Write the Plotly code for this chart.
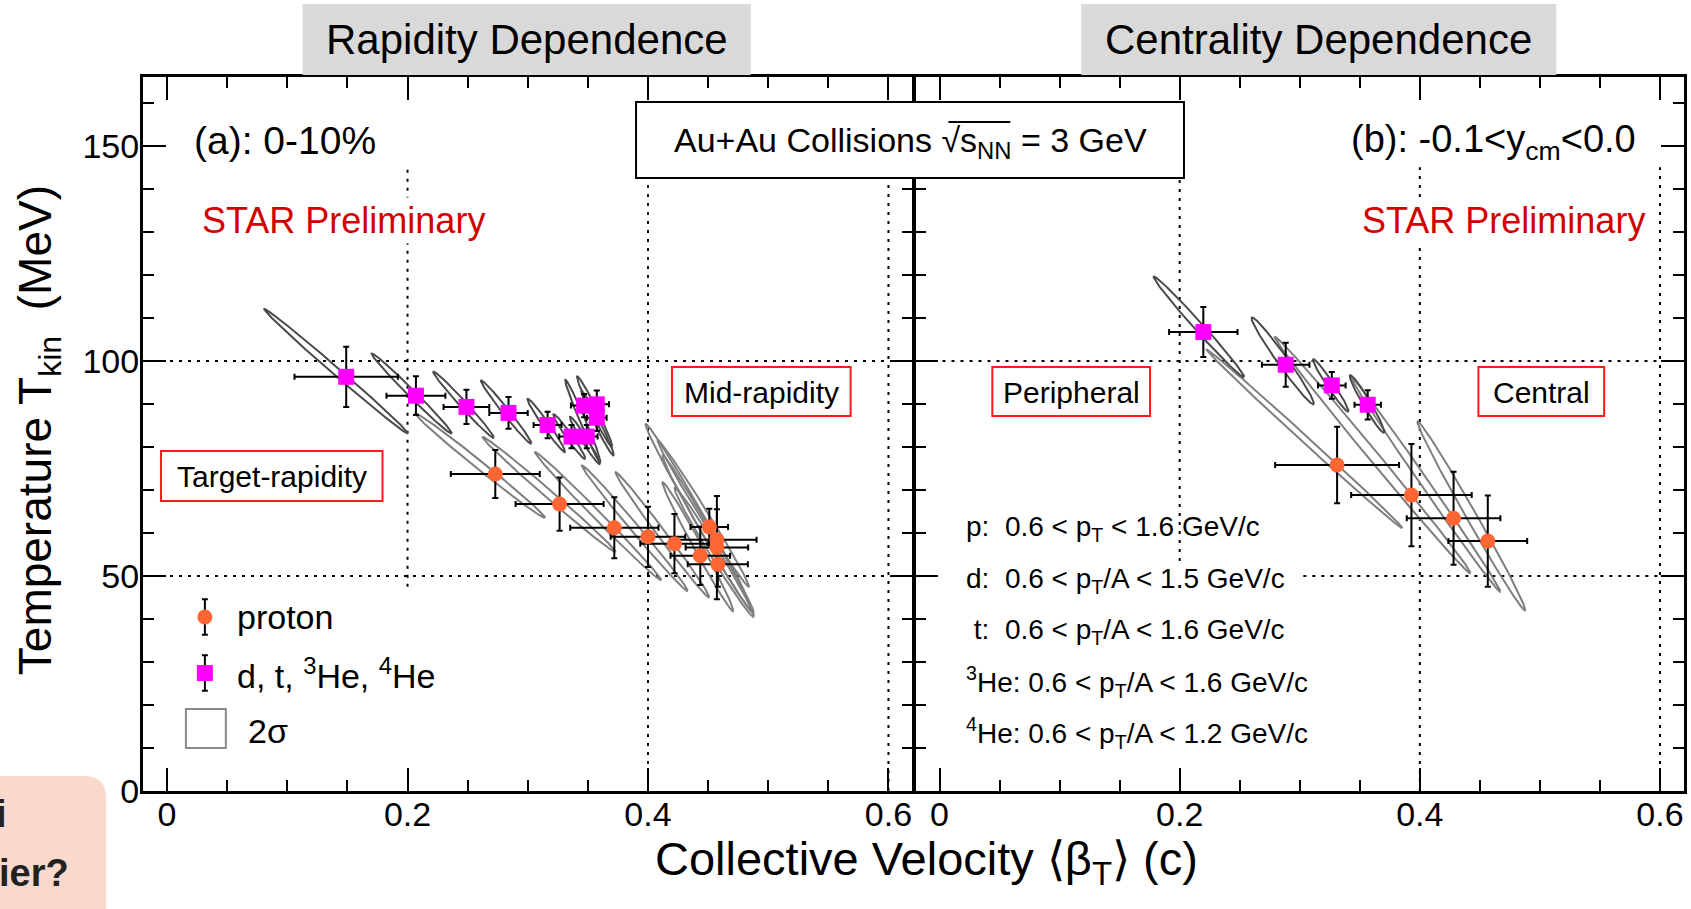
import numpy as np
import plotly.graph_objects as go

# ---------------- data ----------------
# Left panel: rapidity dependence, 0-10% central
rap_p_beta = [0.273, 0.3265, 0.372, 0.400, 0.422, 0.4435, 0.451, 0.4573, 0.4573, 0.4581]
rap_p_T = [73.7, 66.7, 61.2, 59.1, 57.5, 54.7, 61.4, 58.4, 56.6, 52.7]
rap_p_beta_err = [0.037, 0.0366, 0.0367, 0.031, 0.0284, 0.0248, 0.0156, 0.033, 0.026, 0.025]
rap_p_T_err = [5.6, 6.2, 7.1, 7.0, 6.9, 6.8, 4.2, 7.1, 12.0, 5.2]

rap_n_beta = [0.149, 0.207, 0.249, 0.284, 0.3165, 0.3364, 0.3491, 0.3469, 0.3574, 0.3574]
rap_n_T = [96.3, 91.9, 89.3, 87.9, 85.1, 82.4, 82.4, 89.6, 89.9, 86.8]
rap_n_beta_err = [0.043, 0.0245, 0.019, 0.016, 0.0116, 0.0102, 0.009, 0.011, 0.0102, 0.0082]
rap_n_T_err = [7.0, 4.5, 4.0, 3.7, 3.1, 2.7, 2.7, 2.7, 3.2, 3.1]

# 2-sigma contours: centre, half extent in beta and T, correlation
rap_p_ell_beta = [0.2604, 0.3177, 0.3585, 0.389, 0.412, 0.4415, 0.446, 0.443, 0.449, 0.455]
rap_p_ell_T = [75.65, 68.95, 63.9, 61.1, 59.55, 56.8, 64.5, 63.3, 60.0, 55.5]
rap_p_ell_dbeta = [0.054, 0.0553, 0.0525, 0.044, 0.039, 0.0295, 0.038, 0.045, 0.037, 0.033]
rap_p_ell_dT = [12.15, 13.35, 14.9, 14.6, 14.55, 15.0, 17.0, 22.0, 18.0, 15.0]
rap_p_ell_rho = [-0.995, -0.9958, -0.996, -0.995, -0.994, -0.991, -0.994, -0.994, -0.993, -0.99]

rap_n_ell_beta = [0.1405, 0.2035, 0.2466, 0.282, 0.3154, 0.3345, 0.3475, 0.3458, 0.3556, 0.358]
rap_n_ell_T = [97.6, 92.4, 89.8, 88.1, 85.0, 82.4, 81.5, 86.0, 88.2, 85.5]
rap_n_ell_dbeta = [0.0597, 0.0333, 0.0252, 0.021, 0.0157, 0.0133, 0.0125, 0.0147, 0.0147, 0.0135]
rap_n_ell_dT = [14.45, 9.3, 7.7, 7.35, 6.2, 5.2, 5.5, 9.6, 8.2, 7.5]
rap_n_ell_rho = [-0.9969, -0.992, -0.989, -0.9866, -0.98, -0.975, -0.975, -0.985, -0.98, -0.98]

# Right panel: centrality dependence, -0.1 < y_cm < 0.0
cen_p_beta = [0.3311, 0.393, 0.4281, 0.4566]
cen_p_T = [75.8, 68.8, 63.4, 58.1]
cen_p_beta_err = [0.0516, 0.0502, 0.039, 0.0328]
cen_p_T_err = [8.9, 11.9, 10.8, 10.6]

cen_n_beta = [0.2197, 0.2883, 0.3267, 0.3566]
cen_n_T = [106.7, 99.1, 94.3, 89.8]
cen_n_beta_err = [0.0285, 0.0198, 0.0115, 0.011]
cen_n_T_err = [5.8, 5.1, 3.1, 3.4]

cen_p_ell_beta = [0.304, 0.3607, 0.4049, 0.4429]
cen_p_ell_T = [81.85, 78.1, 71.3, 63.95]
cen_p_ell_dbeta = [0.0815, 0.0815, 0.0622, 0.0449]
cen_p_ell_dT = [20.75, 27.5, 25.0, 21.95]
cen_p_ell_rho = [-0.9987, -0.9978, -0.9977, -0.994]

cen_n_ell_beta = [0.216, 0.2858, 0.3258, 0.356]
cen_n_ell_T = [107.9, 100.0, 94.3, 90.0]
cen_n_ell_dbeta = [0.0377, 0.026, 0.0148, 0.0144]
cen_n_ell_dT = [11.7, 10.1, 6.1, 6.7]
cen_n_ell_rho = [-0.992, -0.98, -0.975, -0.968]

x_tick_vals = [0, 0.2, 0.4, 0.6]
x_tick_text = ["0", "0.2", "0.4", "0.6"]
y_tick_vals = [0, 50, 100, 150]
y_tick_text = ["0", "50", "100", "150"]

pt_ranges = [
    "p:\u00a0\u00a00.6 &lt; p<sub>T</sub> &lt; 1.6 GeV/c",
    "d:\u00a0\u00a00.6 &lt; p<sub>T</sub>/A &lt; 1.5 GeV/c",
    "\u00a0t:\u00a0\u00a00.6 &lt; p<sub>T</sub>/A &lt; 1.6 GeV/c",
    "<sup>3</sup>He: 0.6 &lt; p<sub>T</sub>/A &lt; 1.6 GeV/c",
    "<sup>4</sup>He: 0.6 &lt; p<sub>T</sub>/A &lt; 1.2 GeV/c",
]

# ---------------- page geometry ----------------
W, H = 1691, 909
ML, MR, MT, MB = 143, 4, 77, 118
LEFT_END, RIGHT_START = 914, 917      # pixel edges of the two panels
FONT = "Liberation Sans, Arial, Helvetica, sans-serif"
ORANGE = "#ff6633"
MAGENTA = "#ff00ff"
RED_TXT = "#d20000"
RED_BOX = "#ff1a1a"

# dotted guide lines (interrupted where the legend / text panes sit)
guides = {
    ("x", "y"): dict(vertical=[(0.2, 47.5, 145), (0.4, 0, 145), (0.6, 0, 145)],
                     horizontal=[(50, -0.02, 0.62), (100, -0.02, 0.62)]),
    ("x2", "y2"): dict(vertical=[(0.2, 53.5, 145), (0.4, 0, 145), (0.6, 0, 145)],
                       horizontal=[(50, 0.303, 0.62), (100, -0.02, 0.62)]),
}


def fx(px):
    return (px - ML) / (W - ML - MR)


def fy(py):
    return (H - MB - py) / (H - MT - MB)


def contour_path(cb, cT, db, dT, rho):
    xs, ys = [], []
    t = np.linspace(0, 2 * np.pi, 241)
    for b0, T0, sb, sT, r in zip(cb, cT, db, dT, rho):
        xs += list(b0 + sb * np.cos(t)) + [None]
        ys += list(T0 + sT * (r * np.cos(t) - np.sqrt(1 - r * r) * np.sin(t))) + [None]
    return xs, ys


fig = go.Figure()


def add_contours(cb, cT, db, dT, rho, color, xa, ya):
    xs, ys = contour_path(cb, cT, db, dT, rho)
    fig.add_trace(go.Scatter(x=xs, y=ys, mode="lines", line=dict(color=color, width=2),
                             hoverinfo="skip", showlegend=False, xaxis=xa, yaxis=ya))


def add_points(bx, T, ebx, eT, symbol, color, size, xa, ya):
    fig.add_trace(go.Scatter(
        x=bx, y=T, mode="markers",
        marker=dict(symbol=symbol, color=color, size=size, line=dict(width=0)),
        error_x=dict(type="data", array=ebx, color="black", thickness=2, width=3),
        error_y=dict(type="data", array=eT, color="black", thickness=2, width=3),
        showlegend=False, xaxis=xa, yaxis=ya))


# contours first, points on top
add_contours(rap_p_ell_beta, rap_p_ell_T, rap_p_ell_dbeta, rap_p_ell_dT, rap_p_ell_rho, "#7f7f7f", "x", "y")
add_contours(rap_n_ell_beta, rap_n_ell_T, rap_n_ell_dbeta, rap_n_ell_dT, rap_n_ell_rho, "#4a4a4a", "x", "y")
add_contours(cen_p_ell_beta, cen_p_ell_T, cen_p_ell_dbeta, cen_p_ell_dT, cen_p_ell_rho, "#7f7f7f", "x2", "y2")
add_contours(cen_n_ell_beta, cen_n_ell_T, cen_n_ell_dbeta, cen_n_ell_dT, cen_n_ell_rho, "#4a4a4a", "x2", "y2")

add_points(rap_p_beta, rap_p_T, rap_p_beta_err, rap_p_T_err, "circle", ORANGE, 15, "x", "y")
add_points(rap_n_beta, rap_n_T, rap_n_beta_err, rap_n_T_err, "square", MAGENTA, 16, "x", "y")
add_points(cen_p_beta, cen_p_T, cen_p_beta_err, cen_p_T_err, "circle", ORANGE, 15, "x2", "y2")
add_points(cen_n_beta, cen_n_T, cen_n_beta_err, cen_n_T_err, "square", MAGENTA, 16, "x2", "y2")

# legend keys on a page-sized overlay axis
key_err = 17.8 / (H - MT - MB)
fig.add_trace(go.Scatter(x=[fx(205)], y=[fy(617)], mode="markers",
                         marker=dict(symbol="circle", color=ORANGE, size=15),
                         error_y=dict(type="data", array=[key_err], color="black", thickness=2, width=3),
                         showlegend=False, hoverinfo="skip", xaxis="x3", yaxis="y3"))
fig.add_trace(go.Scatter(x=[fx(205)], y=[fy(673)], mode="markers",
                         marker=dict(symbol="square", color=MAGENTA, size=16),
                         error_y=dict(type="data", array=[key_err], color="black", thickness=2, width=3),
                         showlegend=False, hoverinfo="skip", xaxis="x3", yaxis="y3"))

# ---------------- shapes ----------------
shapes = []
dot = dict(color="black", width=2, dash="3px,6px")
for (xa, ya), g in guides.items():
    for bv, t0, t1 in g["vertical"]:
        shapes.append(dict(type="line", xref=xa, yref=ya, x0=bv, x1=bv, y0=t0, y1=t1,
                           line=dot, layer="below"))
    for tv, b0, b1 in g["horizontal"]:
        shapes.append(dict(type="line", xref=xa, yref=ya, x0=b0, x1=b1, y0=tv, y1=tv,
                           line=dot, layer="below"))

# header boxes
shapes.append(dict(type="rect", xref="paper", yref="paper", x0=fx(303), x1=fx(752),
                   y0=fy(75), y1=fy(4), fillcolor="#d9d9d9", line=dict(width=0), layer="above"))
shapes.append(dict(type="rect", xref="paper", yref="paper", x0=fx(1083), x1=fx(1559),
                   y0=fy(75), y1=fy(4), fillcolor="#d9d9d9", line=dict(width=0), layer="above"))
shapes.append(dict(type="rect", xref="paper", yref="paper", x0=fx(637), x1=fx(1186),
                   y0=fy(178), y1=fy(102), fillcolor="white", line=dict(color="black", width=2),
                   layer="above"))
# bar of the square-root sign
shapes.append(dict(type="line", xref="paper", yref="paper", x0=fx(950), x1=fx(1012),
                   y0=fy(122), y1=fy(122), line=dict(color="black", width=2), layer="above"))

# red-framed region labels
region_boxes = [(673, 852, 367, 416), (161, 383, 451, 501), (994, 1152, 367, 416), (1481, 1607, 367, 416)]
for x0, x1, y0, y1 in region_boxes:
    shapes.append(dict(type="rect", xref="paper", yref="paper", x0=fx(x0), x1=fx(x1),
                       y0=fy(y1), y1=fy(y0), fillcolor="white", line=dict(color=RED_BOX, width=2),
                       layer="above"))

# 2-sigma legend key
shapes.append(dict(type="rect", xref="paper", yref="paper", x0=fx(186), x1=fx(226),
                   y0=fy(748), y1=fy(709), line=dict(color="#8a8a8a", width=2), layer="above"))

# corner badge
bx0, bx1, by0, by1, rr = -30, 106, 776, 930, 22
badge = (f"M {fx(bx0)},{fy(by0)} L {fx(bx1 - rr)},{fy(by0)} "
         f"Q {fx(bx1)},{fy(by0)} {fx(bx1)},{fy(by0 + rr)} "
         f"L {fx(bx1)},{fy(by1)} L {fx(bx0)},{fy(by1)} Z")
shapes.append(dict(type="path", xref="paper", yref="paper", path=badge,
                   fillcolor="#f8d9cc", line=dict(width=0), layer="above"))

# ---------------- annotations ----------------
ann = []


def text(x, y, s, size, xanchor="center", color="black", angle=0, bold=False, bg=None):
    a = dict(x=fx(x), y=fy(y), xref="paper", yref="paper", text=f"<b>{s}</b>" if bold else s,
             showarrow=False, xanchor=xanchor, yanchor="middle", textangle=angle,
             font=dict(family=FONT, size=size, color=color))
    if bg:
        a.update(bgcolor=bg, borderpad=2)
    ann.append(a)


text(527.5, 40, "Rapidity Dependence", 42)
text(1321, 40, "Centrality Dependence", 42)
text(192, 140, "(a): 0-10%", 39, "left")
text(1351, 142, "(b): -0.1&lt;y<sub>cm</sub>&lt;0.0", 38, "left")
text(911.5, 142, "Au+Au Collisions \u221as<sub>NN</sub> = 3 GeV", 34)
text(199, 221, "STAR Preliminary", 36, "left", RED_TXT, bg="white")
text(1651, 221, "STAR Preliminary", 36, "right", RED_TXT, bg="white")
text(762.5, 392, "Mid-rapidity", 30)
text(272, 476, "Target-rapidity", 30)
text(1073, 392, "Peripheral", 30)
text(1544, 392, "Central", 30)
text(235, 617, "proton", 34, "left")
text(235, 673, "d, t, <sup>3</sup>He, <sup>4</sup>He", 34, "left")
text(246, 731, "2\u03c3", 34, "left")
for yy, s in zip([528, 580, 631, 682, 733], pt_ranges):
    text(966, yy, s, 28, "left")
text(38, 430, "Temperature T<sub>kin</sub>\u00a0\u00a0(MeV)", 46, angle=-90)
text(928, 862, "Collective Velocity \u27e8\u03b2<sub>T</sub>\u27e9 (c)", 47)
text(9, 814, "i", 38, "right", "#222222", bold=True)
text(71, 873, "ier?", 38, "right", "#222222", bold=True)

# ---------------- axes ----------------
minor_x = dict(ticks="inside", ticklen=11, tickwidth=2, tickcolor="black", tick0=0, dtick=0.05, showgrid=False)
minor_y = dict(ticks="inside", ticklen=11, tickwidth=2, tickcolor="black", tick0=0, dtick=10, showgrid=False)
axis_common = dict(showgrid=False, zeroline=False, showline=True, linewidth=3, linecolor="black",
                   mirror="ticks", ticks="inside", ticklen=23, tickwidth=2, tickcolor="black",
                   tickfont=dict(family=FONT, size=34, color="black"))

xa = dict(axis_common, range=[-0.02, 0.62], tickmode="array", tickvals=x_tick_vals,
          ticktext=x_tick_text, minor=minor_x, ticklabelstandoff=-9)
ya = dict(axis_common, range=[0, 166], tickmode="array", tickvals=y_tick_vals,
          ticktext=y_tick_text, minor=minor_y, ticklabelstandoff=-6)

fig.update_layout(
    width=W, height=H,
    margin=dict(l=ML, r=MR, t=MT, b=MB, pad=0),
    paper_bgcolor="white", plot_bgcolor="rgba(0,0,0,0)",
    font=dict(family=FONT, color="black"),
    xaxis=dict(xa, domain=[0, fx(LEFT_END)], anchor="y"),
    yaxis=dict(ya, domain=[0, 1], anchor="x"),
    xaxis2=dict(xa, domain=[fx(RIGHT_START), 1], anchor="y2"),
    yaxis2=dict(ya, domain=[0, 1], anchor="x2", showticklabels=False),
    xaxis3=dict(domain=[0, 1], range=[0, 1], anchor="y3", visible=False, fixedrange=True),
    yaxis3=dict(domain=[0, 1], range=[0, 1], anchor="x3", visible=False, fixedrange=True),
    shapes=shapes,
    annotations=ann,
    showlegend=False,
)

fig.write_html("out.html")
